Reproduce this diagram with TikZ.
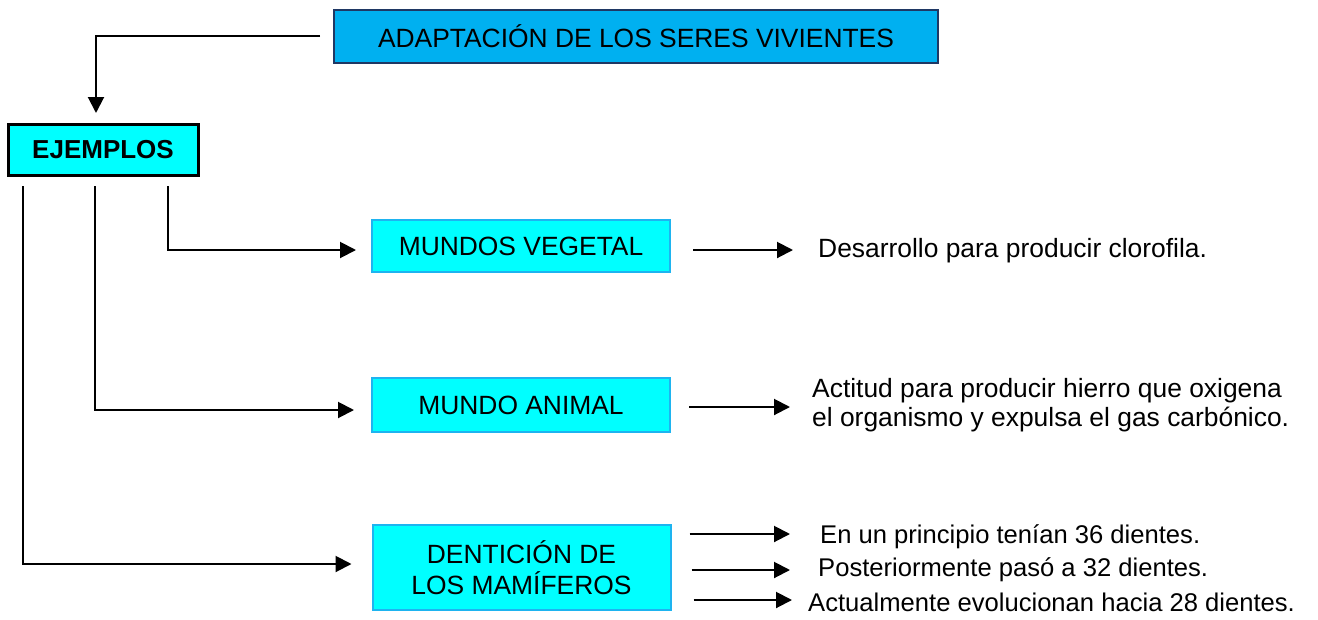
\documentclass[tikz,border=0pt]{standalone}
\usepackage{fontspec}
\setmainfont{Liberation Sans}
\usetikzlibrary{arrows.meta}
\definecolor{topfill}{RGB}{0,176,240}
\definecolor{topline}{RGB}{31,56,100}
\definecolor{cyanfill}{RGB}{0,255,255}
\definecolor{cyanline}{RGB}{30,180,240}
\begin{document}
\begin{tikzpicture}[x=1pt,y=-1pt,
  every node/.style={font=\fontsize{26.4}{30}\selectfont},
  topbox/.style={draw=topline,line width=2.5pt,fill=topfill,minimum width=604pt,minimum height=53pt,inner sep=0pt},
  ejbox/.style={draw=black,line width=3pt,fill=cyanfill,minimum width=190pt,minimum height=51pt,inner sep=0pt,font=\fontsize{26}{30}\selectfont\bfseries},
  catbox/.style={draw=cyanline,line width=2pt,fill=cyanfill,minimum width=298pt,inner sep=0pt,align=center},
  txt/.style={anchor=west,inner sep=0pt,align=left},
  dtxt/.style={txt,font=\fontsize{25.6}{30}\selectfont},
  arr/.style={line width=2pt,-{Triangle[length=16pt,width=16pt]}},
  ln/.style={line width=2pt}]
\useasboundingbox (0,0) rectangle (1318,619);
\node[topbox] (top) at (636,36.5) {ADAPTACIÓN DE LOS SERES VIVIENTES};
\node[ejbox] (ej) at (103,150) {EJEMPLOS};
\node[catbox,minimum height=52pt] (veg) at (521,246) {MUNDOS VEGETAL};
\node[catbox,minimum height=54pt] (ani) at (521,405) {MUNDO ANIMAL};
\node[catbox,minimum height=85pt,font=\fontsize{26.4}{31}\selectfont] (den) at (521.5,567.5) {DENTICIÓN DE\\LOS MAMÍFEROS};
\node[txt] (t1) at (818,251) {Desarrollo para producir clorofila.};
\node[txt,font=\fontsize{26.4}{29}\selectfont] (t2) at (812,405) {Actitud para producir hierro que oxigena\\el organismo y expulsa el gas carbónico.};
\node[dtxt] (d1) at (820,537) {En un principio tenían 36 dientes.};
\node[dtxt] (d2) at (818,570) {Posteriormente pasó a 32 dientes.};
\node[dtxt] (d3) at (808,602) {Actualmente evolucionan hacia 28 dientes.};
\coordinate (s0) at (320,36);
\coordinate (v1) at (168,186);
\coordinate (v2) at (95,186);
\coordinate (v3) at (23,186);
% top to ejemplos
\draw[arr] (s0) -| ([xshift=-7pt,yshift=10pt]ej.north);
% ejemplos branches
\draw[arr,shorten >=15pt] (v1) |- ([yshift=-4pt]veg.west);
\draw[arr,shorten >=17pt] (v2) |- ([yshift=-5pt]ani.west);
\draw[arr,shorten >=20pt] (v3) |- ([yshift=3.5pt]den.west);
% right arrows
\draw[arr,shorten >=25pt] ([xshift=22pt]veg.east |- 0,250) -- (t1.west |- 0,250);
\draw[arr,shorten >=22pt] ([xshift=18pt]ani.east |- 0,407) -- (t2.west |- 0,407);
\draw[arr,shorten >=30pt] ([xshift=18pt]den.east |- 0,534) -- (d1.west |- 0,534);
\draw[arr,shorten >=28pt] ([xshift=20pt]den.east |- 0,570) -- (d2.west |- 0,570);
\draw[arr,shorten >=16pt] ([xshift=22pt]den.east |- 0,600) -- (d3.west |- 0,600);
\end{tikzpicture}
\end{document}
